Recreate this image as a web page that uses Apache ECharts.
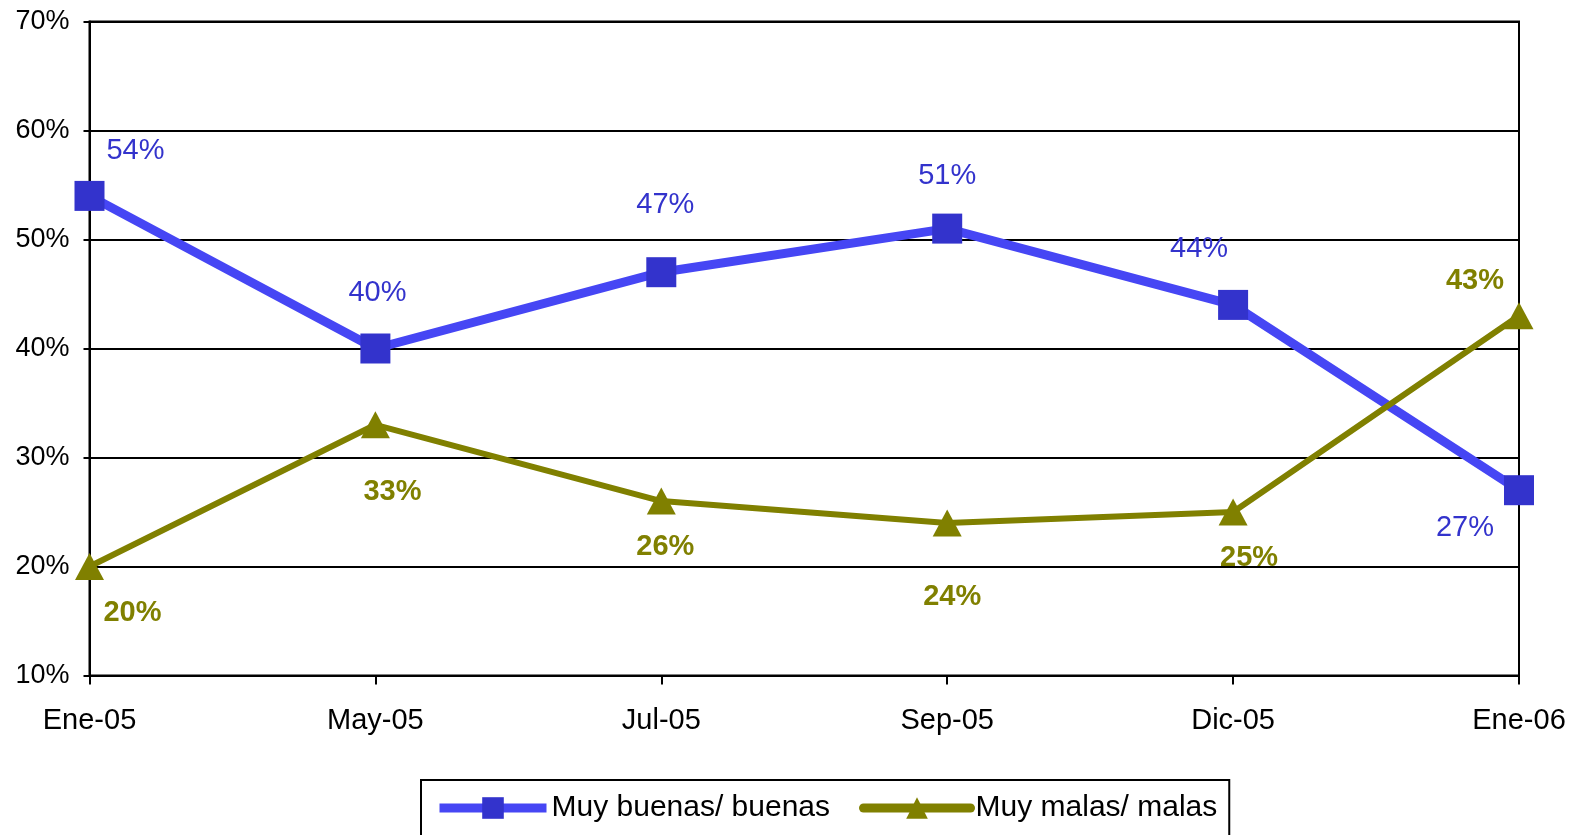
<!DOCTYPE html>
<html>
<head>
<meta charset="utf-8">
<script src="https://cdn.jsdelivr.net/npm/echarts@6/dist/echarts.min.js"></script>
<style>
  html, body { margin: 0; padding: 0; background: #fff; }
  #main { width: 1574px; height: 835px; }
</style>
</head>
<body>
<div id="main"></div>
<script>
// datos
var categorias = ['Ene-05', 'May-05', 'Jul-05', 'Sep-05', 'Dic-05', 'Ene-06'];
var buenas = [54, 40, 47, 51, 44, 27];
var malas = [20, 33, 26, 24, 25, 43];
var nombreBuenas = 'Muy buenas/ buenas';
var nombreMalas = 'Muy malas/ malas';

// desplazamiento de las etiquetas respecto al punto
var offBuenas = [[46, -45], [2, -56], [4, -67], [0, -53], [-34, -56], [-54, 38]];
var offMalas = [[43, 46], [17, 67], [4, 46], [5, 74], [16, 46], [-44, -35]];

var AZUL = '#3333cc';
var OLIVA = '#808000';
var FUENTE = '"Liberation Sans", Arial, sans-serif';

function puntos(valores, offs) {
  return valores.map(function (v, i) {
    return { value: v, label: { offset: offs[i] } };
  });
}

var myChart = echarts.init(document.getElementById('main'));

var option = {
  animation: false,
  grid: {
    left: 89.5, right: 55, top: 21.5, bottom: 159.5,
    show: true, borderColor: '#000', borderWidth: 2
  },
  legend: {
    left: 421, top: 780,
    orient: 'horizontal',
    borderColor: '#000', borderWidth: 2,
    padding: [13, 12, 40, 14],
    itemWidth: 107, itemHeight: 27, itemGap: 29,
    textStyle: { fontFamily: FUENTE, fontSize: 30, color: '#000' },
    data: [
      { name: nombreBuenas, lineStyle: { width: 9, color: '#4646f4' } },
      { name: nombreMalas, lineStyle: { width: 9, cap: 'round' } }
    ]
  },
  xAxis: {
    type: 'category',
    data: categorias,
    boundaryGap: false,
    axisLine: { lineStyle: { color: '#000', width: 2 } },
    axisTick: { show: true, length: 9, lineStyle: { color: '#000', width: 2 } },
    axisLabel: { margin: 31, fontFamily: FUENTE, fontSize: 29, color: '#000' }
  },
  yAxis: {
    type: 'value',
    min: 10, max: 70, interval: 10,
    axisLine: { show: true, lineStyle: { color: '#000', width: 2 } },
    axisTick: { show: true, length: 6, lineStyle: { color: '#000', width: 2 } },
    splitLine: { show: true, lineStyle: { color: '#000', width: 2 } },
    axisLabel: { margin: 20, formatter: '{value}%', fontFamily: FUENTE, fontSize: 27, color: '#000' }
  },
  series: [
    {
      name: nombreBuenas,
      type: 'line',
      data: puntos(buenas, offBuenas),
      symbol: 'rect',
      symbolSize: 30,
      itemStyle: { color: AZUL },
      lineStyle: { color: '#4646f4', width: 9 },
      label: {
        show: true, position: 'inside', formatter: '{c}%',
        fontFamily: FUENTE, fontSize: 29, color: AZUL
      },
      z: 2
    },
    {
      name: nombreMalas,
      type: 'line',
      data: puntos(malas, offMalas),
      symbol: 'triangle',
      symbolSize: [29, 27],
      itemStyle: { color: OLIVA },
      lineStyle: { color: OLIVA, width: 6 },
      label: {
        show: true, position: 'inside', formatter: '{c}%',
        fontFamily: FUENTE, fontSize: 29, fontWeight: 'bold', color: OLIVA
      },
      z: 3
    }
  ]
};

myChart.setOption(option);
</script>
</body>
</html>
